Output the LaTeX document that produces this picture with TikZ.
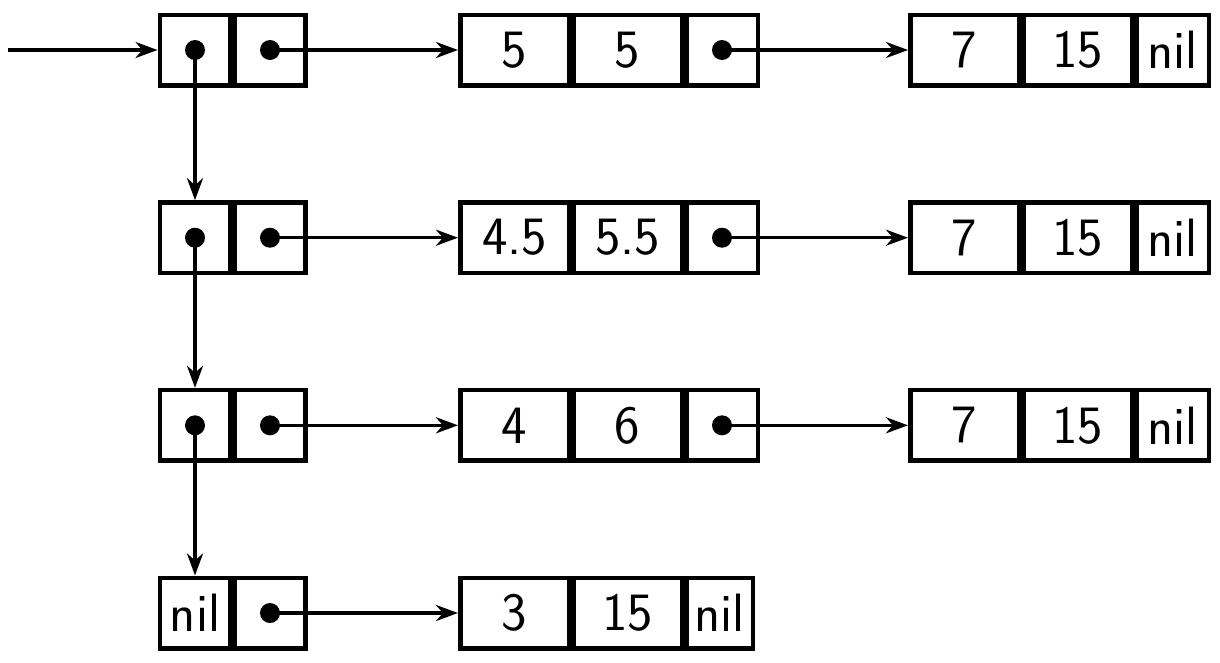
\documentclass[tikz,border=0pt]{standalone}
\usetikzlibrary{arrows.meta}
\begin{document}
\begin{tikzpicture}[x=1pt,y=-1pt,
  cell/.style={draw,line width=4.5pt,rectangle,inner sep=0pt,outer sep=2.25pt,
    minimum height=70.5pt,font=\sffamily\fontsize{54}{60}\selectfont},
  sq/.style={cell,minimum width=70.5pt},
  wide/.style={cell,minimum width=108.5pt},
  conn/.style={line width=3.5pt,-{Stealth[length=22pt,width=16pt,inset=7pt]}},
  dotr/.style={fill=black}
]
\useasboundingbox (0,0) rectangle (1220,662);
% row y: 50, 237.7, 425.3, 613
\foreach \r/\y in {1/50,2/237.7,3/425.3,4/613}{
  \coordinate (y\r) at (0,\y);
}
% column boxes
\node[sq] (a1) at (195,50) {};
\node[sq] (b1) at (270,50) {};
\node[sq] (a2) at (195,237.7) {};
\node[sq] (b2) at (270,237.7) {};
\node[sq] (a3) at (195,425.3) {};
\node[sq] (b3) at (270,425.3) {};
\node[sq] (a4) at (195,613) {nil};
\node[sq] (b4) at (270,613) {};
% middle boxes
\node[wide] (m1a) at (514.5,50) {5};
\node[wide] (m1b) at (627.5,50) {5};
\node[sq,minimum width=71.5pt] (m1c) at (722,50) {};
\node[wide] (m2a) at (514.5,237.7) {4.5};
\node[wide] (m2b) at (627.5,237.7) {5.5};
\node[sq,minimum width=71.5pt] (m2c) at (722,237.7) {};
\node[wide] (m3a) at (514.5,425.3) {4};
\node[wide] (m3b) at (627.5,425.3) {6};
\node[sq,minimum width=71.5pt] (m3c) at (722,425.3) {};
\node[wide] (m4a) at (514.5,613) {3};
\node[wide] (m4b) at (627.5,613) {15};
\node[sq,minimum width=66.5pt] (m4c) at (719.5,613) {nil};
% right boxes
\foreach \r/\y in {1/50,2/237.7,3/425.3}{
  \node[wide] (r\r a) at (964.5,\y) {7};
  \node[wide] (r\r b) at (1077.5,\y) {15};
  \node[sq,minimum width=72.5pt] (r\r c) at (1172.5,\y) {nil};
}
% entry
\coordinate (start) at (8,50);
\draw[conn] (start) -- (a1.west);
% vertical links
\draw[conn] (a1.center) -- (a2.north);
\draw[conn] (a2.center) -- (a3.north);
\draw[conn] (a3.center) -- (a4.north);
% horizontal links
\foreach \r in {1,2,3,4}{
  \draw[conn] (b\r.center) -- (m\r a.west);
}
\foreach \r in {1,2,3}{
  \draw[conn] (m\r c.center) -- (r\r a.west);
}
% dots
\foreach \n in {a1,a2,a3,b1,b2,b3,b4,m1c,m2c,m3c}{
  \fill[dotr] (\n.center) circle (10pt);
}
\end{tikzpicture}
\end{document}
